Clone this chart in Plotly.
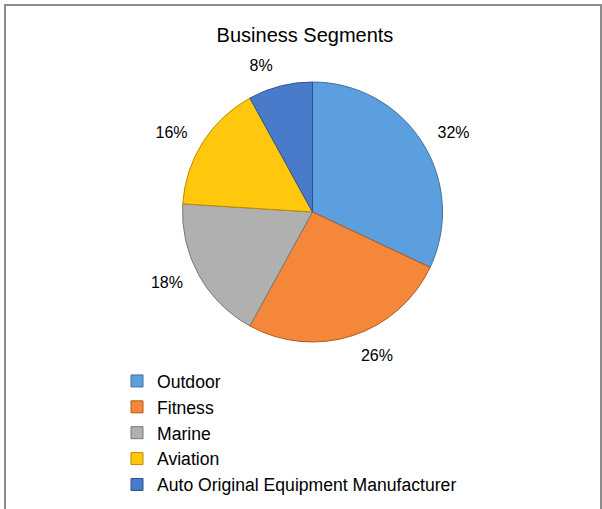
import plotly.graph_objects as go

segments = ["Outdoor", "Fitness", "Marine", "Aviation", "Auto Original Equipment Manufacturer"]
shares = [32, 26, 18, 16, 8]
colors = ["#5C9FDE", "#F5873A", "#B0B0B0", "#FFC80E", "#4A7BCB"]
line_colors = ["#41719C", "#AE5A21", "#787878", "#BC8C00", "#2F528F"]

W, H = 602, 509
cx, cy, r = 312.5, 212, 130
r_lab = 143  # radius of the (invisible) label ring
FONT = "Liberation Sans Narrow, Arial Narrow, Liberation Sans, Arial, sans-serif"


def dom(rad):
    return dict(x=[(cx - rad) / W, (cx + rad) / W], y=[1 - (cy + rad) / H, 1 - (cy - rad) / H])


fig = go.Figure()
fig.add_trace(go.Pie(
    labels=segments,
    values=shares,
    sort=False,
    direction="clockwise",
    rotation=0,
    marker=dict(colors=colors, line=dict(color=line_colors, width=1)),
    textinfo="none",
    domain=dom(r),
    hoverinfo="label+percent",
))
# invisible ring carrying the outside percentage labels a little farther out
fig.add_trace(go.Pie(
    labels=segments,
    values=shares,
    sort=False,
    direction="clockwise",
    rotation=0,
    marker=dict(colors=["rgba(0,0,0,0)"] * len(segments), line=dict(width=0)),
    texttemplate="%{percent:.0%}",
    textposition="outside",
    textfont=dict(family=FONT, size=16, color="#000000"),
    domain=dom(r_lab),
    hoverinfo="skip",
    showlegend=False,
))

fig.update_layout(
    width=W, height=H,
    margin=dict(l=0, r=0, t=0, b=0),
    paper_bgcolor="white",
    plot_bgcolor="white",
    title=dict(text="Business Segments", x=305 / W, xanchor="center", y=1 - 35 / H, yanchor="middle",
               font=dict(family=FONT, size=20, color="#000000")),
    showlegend=True,
    legend=dict(x=117 / W, xanchor="left", y=1 - 363 / H, yanchor="top",
                font=dict(family=FONT, size=17.6, color="#000000"),
                bgcolor="rgba(0,0,0,0)", itemwidth=30, tracegroupgap=0),
    shapes=[dict(type="rect", xref="paper", yref="paper",
                 x0=5 / W, x1=601 / W, y0=-0.02, y1=1 - 5 / H,
                 line=dict(color="#8C8C8C", width=2))],
)

fig.write_html("out.html", config={"displayModeBar": False},
               post_script="document.body.style.margin='0';document.body.style.padding='0';")
